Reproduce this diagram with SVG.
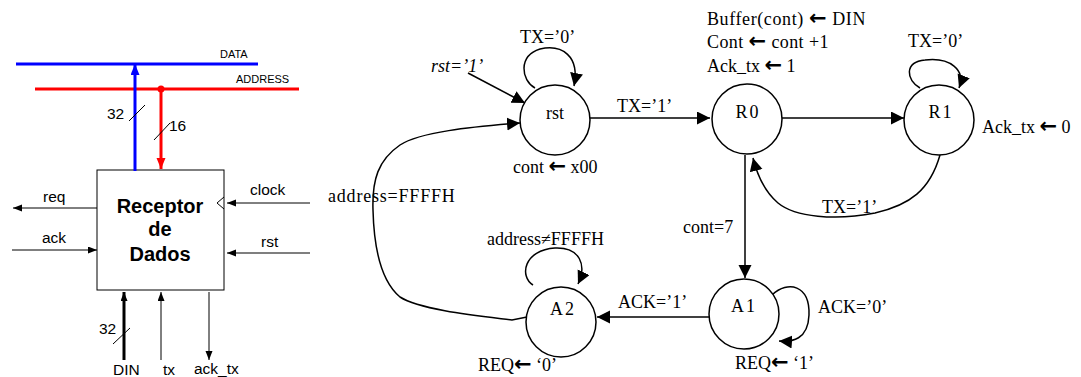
<svg xmlns="http://www.w3.org/2000/svg" width="1081" height="377" viewBox="0 0 1081 377">
<defs>
<marker id="big" markerUnits="userSpaceOnUse" markerWidth="14" markerHeight="14" refX="13" refY="6.5" orient="auto"><path d="M0,0 L13,6.5 L0,13 z" fill="#000"/></marker>
<marker id="sm" markerUnits="userSpaceOnUse" markerWidth="10" markerHeight="8" refX="9" refY="3.5" orient="auto"><path d="M0,0 L9,3.5 L0,7 z" fill="#000"/></marker>
<marker id="smb" markerUnits="userSpaceOnUse" markerWidth="12" markerHeight="10" refX="11" refY="4.5" orient="auto"><path d="M0,0 L11,4.5 L0,9 z" fill="#0000ff"/></marker>
<marker id="smr" markerUnits="userSpaceOnUse" markerWidth="12" markerHeight="10" refX="11" refY="4.5" orient="auto"><path d="M0,0 L11,4.5 L0,9 z" fill="#ff0000"/></marker>
</defs>
<style>
.s{font-family:"Liberation Sans",Arial,sans-serif;fill:#000}
.t{font-family:"Liberation Serif","Times New Roman",serif;font-size:18px;fill:#000}
.a{font-family:"DejaVu Sans",sans-serif;font-size:21px;font-weight:bold}
.c{fill:#fff;stroke:#000;stroke-width:1.5}
.e{fill:none;stroke:#000;stroke-width:1.5}
.l{stroke:#000;stroke-width:1;fill:none}
</style>
<g id="buses">
<line x1="16" y1="64" x2="258" y2="64" stroke="#0000ff" stroke-width="3"/>
<line x1="35" y1="89" x2="299" y2="89" stroke="#ff0000" stroke-width="3"/>
<text class="s" x="220" y="58" font-size="11">DATA</text>
<text class="s" x="236" y="83" font-size="11">ADDRESS</text>
</g>
<g id="receptor">
<rect x="97" y="170" width="127" height="120" fill="#fff" stroke="#000" stroke-width="1"/>
<polyline points="224,197 217,203 224,209" class="l"/>
<text class="s" x="160" y="213" font-size="20" font-weight="bold" text-anchor="middle">Receptor</text>
<text class="s" x="160" y="236" font-size="20" font-weight="bold" text-anchor="middle">de</text>
<text class="s" x="160" y="261" font-size="20" font-weight="bold" text-anchor="middle">Dados</text>
</g>
<g id="ports">
<line x1="135" y1="171" x2="135" y2="64" stroke="#0000ff" stroke-width="3" marker-end="url(#smb)"/>
<line x1="161" y1="89" x2="161" y2="169" stroke="#ff0000" stroke-width="3" marker-end="url(#smr)"/>
<circle cx="161" cy="89" r="3.5" fill="#ff0000"/>
<line x1="129" y1="121" x2="145" y2="105" class="l"/>
<line x1="154" y1="140" x2="170" y2="123" class="l"/>
<text class="s" x="107" y="119" font-size="15.5">32</text>
<text class="s" x="169" y="131" font-size="15.5">16</text>
<line x1="97" y1="208" x2="13" y2="208" class="l" marker-end="url(#sm)"/>
<text class="s" x="43" y="202" font-size="15.5">req</text>
<line x1="12" y1="250" x2="97" y2="250" class="l" marker-end="url(#sm)"/>
<text class="s" x="42" y="243" font-size="15.5">ack</text>
<line x1="310" y1="203" x2="227" y2="203" class="l" marker-end="url(#sm)"/>
<text class="s" x="250" y="195" font-size="15.5">clock</text>
<line x1="310" y1="253" x2="227" y2="253" stroke="#555" stroke-width="1.5" marker-end="url(#sm)"/>
<text class="s" x="261" y="247" font-size="15.5">rst</text>
<line x1="124" y1="360" x2="124" y2="292" stroke="#000" stroke-width="3" marker-end="url(#sm)"/>
<line x1="113" y1="344" x2="130" y2="328" class="l"/>
<text class="s" x="99" y="334" font-size="15.5">32</text>
<line x1="161" y1="360" x2="161" y2="292" class="l" marker-end="url(#sm)"/>
<line x1="209" y1="292" x2="209" y2="360" class="l" marker-end="url(#sm)"/>
<text class="s" x="113" y="375" font-size="15.5">DIN</text>
<text class="s" x="163" y="375" font-size="15.5">tx</text>
<text class="s" x="194" y="374" font-size="15.5">ack_tx</text>
</g>
<g id="connectors">
<line x1="590" y1="118" x2="710" y2="118" class="e" marker-end="url(#big)"/>
<line x1="782" y1="118" x2="904" y2="118" class="e" marker-end="url(#big)"/>
<line x1="745" y1="155" x2="745" y2="278" class="e" marker-end="url(#big)"/>
<line x1="709" y1="317" x2="597" y2="317" class="e" marker-end="url(#big)"/>
<line x1="468" y1="73" x2="525" y2="103" class="e" marker-end="url(#big)"/>
<path d="M940,155 C930,190 910,205 875,213 C835,221 795,217 778,203 C765,192 758,178 753,158" class="e" marker-end="url(#big)"/>
<path d="M527,317 L512,320 C480,316 420,310 400,297 C382,282 374,250 373,210 C372,180 378,160 400,145 C420,132 470,127 520,123" class="e" marker-end="url(#big)"/>
<path d="M535,88 C521,80 518,56 540,49 C562,44 580,56 574,86" class="e" marker-end="url(#big)"/>
<path d="M920,88 C906,80 904,62 925,60 C950,57 966,70 959,88" class="e" marker-end="url(#big)"/>
<path d="M772,295 C788,280 810,285 809,315 C808,340 792,342 779,341" class="e" marker-end="url(#big)"/>
<path d="M533,285 C519,276 524,250 555,248 C580,247 587,265 578,284" class="e" marker-end="url(#big)"/>
</g>
<g id="state-rst"><circle cx="555" cy="120" r="35" class="c"/><text class="t" x="555" y="119" text-anchor="middle">rst</text></g>
<g id="state-R0"><circle cx="747" cy="119" r="35" class="c"/><text class="t" x="748" y="118" text-anchor="middle" letter-spacing="2">R0</text></g>
<g id="state-R1"><circle cx="939" cy="120" r="35" class="c"/><text class="t" x="941" y="118" text-anchor="middle" letter-spacing="2">R1</text></g>
<g id="state-A1"><circle cx="744" cy="314" r="35" class="c"/><text class="t" x="744" y="312" text-anchor="middle" letter-spacing="2">A1</text></g>
<g id="state-A2"><circle cx="561" cy="322" r="35" class="c"/><text class="t" x="563" y="315" text-anchor="middle" letter-spacing="2">A2</text></g>
<g id="labels">
<text class="t" x="520" y="43">TX=’0’</text>
<text class="t" x="431" y="72" font-style="italic">rst=’1’</text>
<text class="t" x="513" y="173">cont <tspan class="a">←</tspan> x00</text>
<text class="t" x="617" y="112">TX=’1’</text>
<text class="t" x="707" y="25" letter-spacing="0.6">Buffer(cont) <tspan class="a">←</tspan> DIN</text>
<text class="t" x="707" y="48" letter-spacing="0.4">Cont <tspan class="a">←</tspan> cont +1</text>
<text class="t" x="707" y="72">Ack_tx <tspan class="a">←</tspan> 1</text>
<text class="t" x="908" y="47">TX=’0’</text>
<text class="t" x="982" y="133">Ack_tx <tspan class="a">←</tspan> 0</text>
<text class="t" x="822" y="213">TX=’1’</text>
<text class="t" x="683" y="233">cont=7</text>
<text class="t" x="328" y="202" letter-spacing="0.8">address=FFFFH</text>
<text class="t" x="487" y="245">address≠FFFFH</text>
<text class="t" x="618" y="308">ACK=’1’</text>
<text class="t" x="818" y="313">ACK=’0’</text>
<text class="t" x="735" y="369">REQ<tspan class="a">←</tspan> ‘1’</text>
<text class="t" x="478" y="371">REQ<tspan class="a">←</tspan> ‘0’</text>
</g>
</svg>
